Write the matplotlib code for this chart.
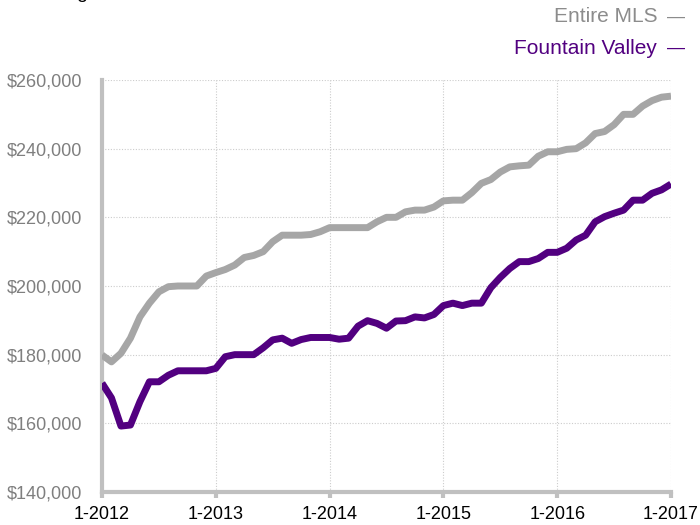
import numpy as np
import matplotlib.pyplot as plt

plt.rcParams['font.family'] = ['Liberation Sans', 'DejaVu Sans']

# Monatswerte 1-2012 bis 1-2017 (61 Punkte)
x_labels = ['1-2012', '1-2013', '1-2014', '1-2015', '1-2016', '1-2017']
y_ticks = [140000, 160000, 180000, 200000, 220000, 240000, 260000]

entire_mls = [
    179900, 177900, 180400, 184800, 191000, 195000, 198300, 199800, 200000, 200000, 200000, 202900,
    203900, 204800, 206100, 208300, 208900, 210000, 212900, 214800, 214800, 214800, 215000, 215800,
    217000, 217000, 217000, 217000, 217000, 218700, 220000, 220000, 221600, 222100, 222100, 223000,
    224800, 225000, 225000, 227200, 229900, 231000, 233200, 234700, 235000, 235200, 237800, 239100,
    239100, 239800, 240000, 241700, 244400, 245000, 247000, 250000, 250000, 252400, 254000, 255000,
    255300,
]
fountain_valley = [
    171700, 167400, 159200, 159500, 166300, 172100, 172100, 174000, 175300, 175300, 175300, 175300,
    176000, 179400, 180000, 180000, 180000, 182000, 184300, 184800, 183300, 184400, 185000, 185000,
    185000, 184500, 184800, 188300, 189900, 189100, 187700, 189800, 189900, 191000, 190700, 191700,
    194300, 195000, 194300, 195000, 195000, 199500, 202500, 205100, 207100, 207100, 208000, 209800,
    209800, 211000, 213400, 214800, 218700, 220200, 221200, 222100, 225000, 225000, 227000, 228000,
    229700,
]
monate = np.arange(len(entire_mls))

grau = '#a6a6a6'
lila = '#520080'

fig = plt.figure(figsize=(7, 5.25), dpi=100)
ax = fig.add_axes([0.1457, 0.0629, 0.8129, 0.7847])

ax.plot(monate, entire_mls, color=grau, linewidth=5, solid_capstyle='butt', zorder=3)
ax.plot(monate, fountain_valley, color=lila, linewidth=5, solid_capstyle='butt', zorder=4)

ax.set_xlim(0, 60)
ax.set_ylim(140000, 260000)
ax.set_xticks(np.arange(0, 61, 12))
ax.set_xticklabels(x_labels, fontsize=13, color='black')
ax.set_yticks(y_ticks)
ax.set_yticklabels(['${:,}'.format(v) for v in y_ticks], fontsize=13, color='#7f7f7f')

ax.grid(True, linestyle=(0, (1, 1.5)), color='#cccccc', linewidth=0.8, zorder=1)
for s in ['top', 'right']:
    ax.spines[s].set_visible(False)
for s in ['left', 'bottom']:
    ax.spines[s].set_color('#c0c0c0')
    ax.spines[s].set_linewidth(3)
    ax.spines[s].set_zorder(2)
ax.tick_params(axis='y', length=0, pad=14)
ax.tick_params(axis='x', length=4, width=3, color='#c0c0c0', pad=6)

# Legende oben rechts
fig.text(0.939, 1 - 17 / 525, 'Entire MLS', color='#8c8c8c', fontsize=15, ha='right', va='center')
fig.text(0.953, 1 - 17 / 525, '—', color='#8c8c8c', fontsize=13, ha='left', va='center')
fig.text(0.939, 1 - 48 / 525, 'Fountain Valley', color=lila, fontsize=15, ha='right', va='center')
fig.text(0.953, 1 - 48 / 525, '—', color=lila, fontsize=13, ha='left', va='center')

# abgeschnittener Titel am oberen Rand (wie im Original nur angeschnitten)
fig.text(0.04, 1.0 + 2 / 525, 'Rolling', color='black', fontsize=14, ha='left', va='baseline')
fig.text(0.2, 1.0 + 2 / 525, '12-Month Calculation', color='#8c8c8c', fontsize=14, ha='left', va='baseline')

fig.savefig('out.png', dpi=100)
